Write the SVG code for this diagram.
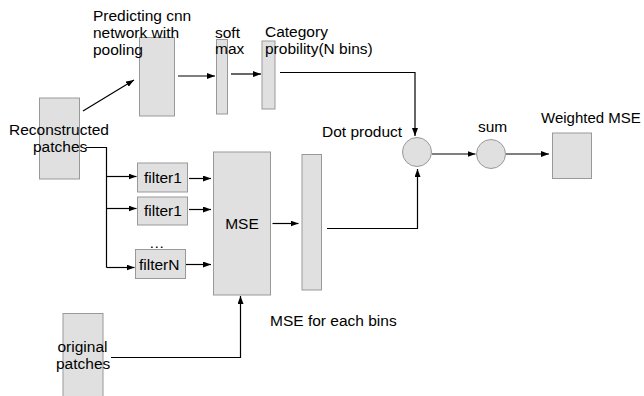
<svg xmlns="http://www.w3.org/2000/svg" width="644" height="396" viewBox="0 0 644 396">
<defs>
<marker id="ah" viewBox="0 0 10 10" refX="10" refY="5" markerWidth="8" markerHeight="6" markerUnits="userSpaceOnUse" orient="auto" preserveAspectRatio="none">
<path d="M0,0 L10,5 L0,10 z" fill="#000"/>
</marker>
</defs>
<style>
.box{fill:#e0e0e0;stroke:#999;stroke-width:1}
.t{font-family:"Liberation Sans",Arial,sans-serif;font-size:15.5px;fill:#000}
.c{fill:none;stroke:#000;stroke-width:1.2}
.a{marker-end:url(#ah)}
</style>
<rect width="644" height="396" fill="#fff"/>
<g id="connectors">
<line class="c a" x1="83" y1="111" x2="134" y2="80"/>
<line class="c a" x1="178" y1="76" x2="215" y2="76"/>
<line class="c a" x1="231" y1="74" x2="261" y2="74"/>
<polyline class="c a" points="280,72.5 415,72.5 415,136"/>
<polyline class="c" points="86,147.5 106.5,147.5 106.5,267.5"/>
<line class="c a" x1="106.5" y1="176.5" x2="136.5" y2="176.5"/>
<line class="c a" x1="106.5" y1="208.5" x2="136.5" y2="208.5"/>
<line class="c a" x1="106.5" y1="267.5" x2="134.5" y2="267.5"/>
<line class="c a" x1="189" y1="178.5" x2="211" y2="178.5"/>
<line class="c a" x1="189" y1="209.5" x2="211" y2="209.5"/>
<line class="c a" x1="184" y1="264.5" x2="211" y2="264.5"/>
<line class="c a" x1="272.5" y1="223.5" x2="298.5" y2="223.5"/>
<polyline class="c a" points="111,357.5 240.5,357.5 240.5,296"/>
<polyline class="c a" points="327,228.5 417.5,228.5 417.5,169"/>
<line class="c a" x1="432" y1="154" x2="475.5" y2="154"/>
<line class="c a" x1="506" y1="154" x2="549" y2="154"/>
</g>
<g id="reconstructed">
<rect class="box" x="39.5" y="98" width="40" height="81"/>
<text class="t" x="9" y="135">Reconstructed</text>
<text class="t" x="33" y="152">patches</text>
</g>
<g id="cnn">
<rect class="box" x="139.5" y="37.5" width="35" height="78.5"/>
<text class="t" x="93" y="21">Predicting cnn</text>
<text class="t" x="93" y="38">network with</text>
<text class="t" x="93" y="55">pooling</text>
</g>
<g id="softmax">
<rect class="box" x="216.5" y="39.5" width="11" height="74.5"/>
<text class="t" x="215" y="38">soft</text>
<text class="t" x="215" y="54">max</text>
</g>
<g id="category">
<rect class="box" x="262" y="41" width="13" height="68"/>
<text class="t" x="265" y="37">Category</text>
<text class="t" x="265" y="54">probility(N bins)</text>
</g>
<g id="filter1a">
<rect class="box" x="137.5" y="163" width="50" height="29"/>
<text class="t" x="144" y="183">filter1</text>
</g>
<g id="filter1b">
<rect class="box" x="137.5" y="197" width="50" height="28"/>
<text class="t" x="144" y="216">filter1</text>
</g>
<g id="dots">
<text class="t" x="149" y="248">…</text>
</g>
<g id="filterN">
<rect class="box" x="135.5" y="249.5" width="50" height="29"/>
<text class="t" x="139" y="270">filterN</text>
</g>
<g id="mse">
<rect class="box" x="213.5" y="152" width="57" height="143"/>
<text class="t" x="242" y="229" text-anchor="middle">MSE</text>
</g>
<g id="msebins">
<rect class="box" x="302" y="154.5" width="19.5" height="135.5"/>
<text class="t" x="270" y="326">MSE for each bins</text>
</g>
<g id="original">
<rect class="box" x="63" y="313.5" width="40" height="83"/>
<text class="t" x="57.5" y="352">original</text>
<text class="t" x="56" y="368.5">patches</text>
</g>
<g id="dot">
<circle class="box" cx="417" cy="152" r="14.5"/>
<text class="t" x="322" y="137">Dot product</text>
</g>
<g id="sum">
<circle class="box" cx="491" cy="154" r="14.5"/>
<text class="t" x="478" y="132">sum</text>
</g>
<g id="weighted">
<rect class="box" x="552.5" y="133" width="39" height="45.5"/>
<text class="t" x="541" y="123" style="font-size:15px">Weighted MSE</text>
</g>
</svg>
